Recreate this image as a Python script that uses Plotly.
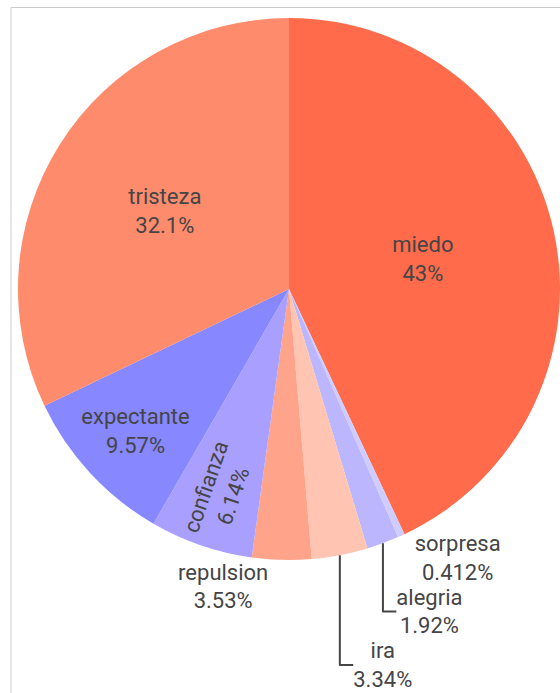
import plotly.graph_objects as go

# Emotion shares, listed clockwise from 12 o'clock
labels = ["miedo", "sorpresa", "alegria", "ira", "repulsion", "confianza", "expectante", "tristeza"]
values = [43, 0.412, 1.92, 3.34, 3.53, 6.14, 9.57, 32.1]
colors = ["#FF6B4B", "#CFCCFF", "#BCB6FF", "#FFC5B2", "#FFA38A", "#A99FFF", "#8787FF", "#FF8B6D"]

W, H = 560, 693
cx, cy, r = 289, 289, 272  # pie centre / radius in pixels (from top-left)
FONT = "Roboto, Noto Sans, sans-serif"

fig = go.Figure(
    go.Pie(
        labels=labels,
        values=values,
        sort=False,
        direction="clockwise",
        rotation=0,
        marker=dict(colors=colors, line=dict(width=0)),
        textinfo="label+percent",
        textposition="auto",
        textfont=dict(family=FONT, color="#454545", size=22),
        outsidetextfont=dict(family=FONT, color="#454545", size=22),
        insidetextorientation="auto",
        domain=dict(
            x=[(2 * cx - W) / W, 1.0],
            y=[(H - cy - r) / H, (H - cy + r) / H],
        ),
        showlegend=False,
        hoverinfo="label+percent",
    )
)

# light frame around the chart area
fig.add_shape(
    type="rect",
    xref="paper", yref="paper",
    x0=11 / W, x1=1.2, y0=-0.2, y1=1 - 7.5 / H,
    line=dict(color="#CCCCCC", width=1),
    fillcolor="rgba(0,0,0,0)",
    layer="below",
)

fig.update_layout(
    width=W,
    height=H,
    margin=dict(l=0, r=0, t=0, b=0, autoexpand=False),
    paper_bgcolor="white",
    plot_bgcolor="white",
    font=dict(family=FONT, size=22, color="#454545"),
)

fig.write_html("out.html")
